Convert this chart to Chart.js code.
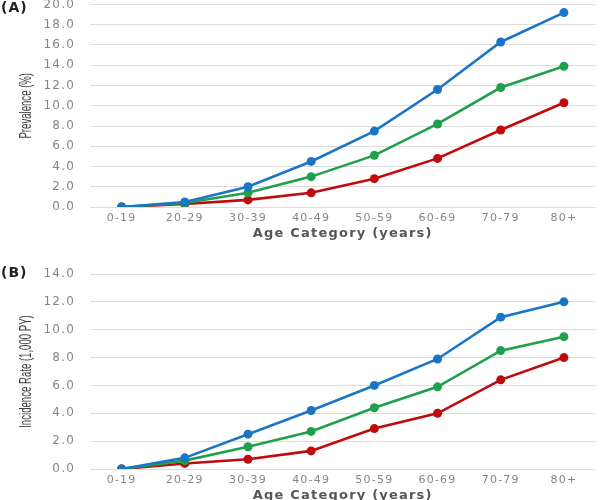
<!DOCTYPE html>
<html lang="en">
<head>
<meta charset="UTF-8">
<title>Prevalence and Incidence by Age Category</title>
<script src="https://cdn.jsdelivr.net/npm/chart.js@4.4.0/dist/chart.umd.min.js"></script>
<style>
  html, body { margin: 0; padding: 0; background: #fff; overflow: hidden; }
  #wrap { position: relative; width: 600px; height: 500px; overflow: hidden; }
  .panel { position: absolute; left: 0; width: 600px; }
  .tag { position: absolute; left: 1px; font: bold 14px 'DejaVu Sans', sans-serif; color: #222; letter-spacing: 1px; }
</style>
</head>
<body>
<div id="wrap">
  <div class="panel" style="top:0;height:247px"><canvas id="chartA"></canvas></div>
  <div class="panel" style="top:247px;height:262px"><canvas id="chartB"></canvas></div>
  <div class="tag" style="top:-1px">(A)</div>
  <div class="tag" style="top:264px">(B)</div>
</div>
<script>
// age groups on the x axis
const ageGroups = ['0-19', '20-29', '30-39', '40-49', '50-59', '60-69', '70-79', '80+'];

// (A) prevalence, %
const prevBlue  = [0.0, 0.5, 2.0, 4.5, 7.5, 11.6, 16.3, 19.2];
const prevGreen = [0.0, 0.4, 1.4, 3.0, 5.1, 8.2, 11.8, 13.9];
const prevRed   = [0.0, 0.3, 0.7, 1.4, 2.8, 4.8, 7.6, 10.3];

// (B) incidence rate per 1,000 PY
const incBlue  = [0.0, 0.8, 2.5, 4.2, 6.0, 7.9, 10.9, 12.0];
const incGreen = [0.0, 0.6, 1.6, 2.7, 4.4, 5.9, 8.5, 9.5];
const incRed   = [0.0, 0.4, 0.7, 1.3, 2.9, 4.0, 6.4, 8.0];

const prevMax = 20, incMax = 14;
const BLUE = '#1b75c6', GREEN = '#1fa04c', RED = '#c00a0e';

// the original text is wide and spaced out; the y title is tall and condensed
const spacing = {
  id: 'spacing',
  beforeUpdate: c => { c.ctx.letterSpacing = '1.2px'; },
  beforeDraw: c => { c.ctx.letterSpacing = '1.2px'; }
};

const yTitle = {
  id: 'yTitle',
  afterDraw(chart, args, opts) {
    const { ctx, chartArea } = chart;
    ctx.save();
    ctx.letterSpacing = '0px';
    ctx.translate(27, (chartArea.top + chartArea.bottom) / 2);
    ctx.rotate(-Math.PI / 2);
    ctx.scale(0.6, 1);
    ctx.font = "16px 'Liberation Sans', sans-serif";
    ctx.fillStyle = '#404040';
    ctx.textAlign = 'center';
    ctx.textBaseline = 'middle';
    ctx.fillText(opts.text, 0, 0);
    ctx.restore();
  }
};

function series(data, color) {
  return {
    data: data,
    borderColor: color,
    backgroundColor: color,
    borderWidth: 2.6,
    pointRadius: 4.5,
    pointBorderWidth: 0,
    tension: 0
  };
}

function makeChart(id, sets, yMax, title, topPad) {
  return new Chart(document.getElementById(id), {
    type: 'line',
    data: {
      labels: ageGroups,
      datasets: [series(sets[0], BLUE), series(sets[1], GREEN), series(sets[2], RED)]
    },
    plugins: [spacing, yTitle],
    options: {
      responsive: true,
      maintainAspectRatio: false,
      animation: false,
      layout: { padding: { top: topPad, right: 3, left: 0, bottom: 0 } },
      plugins: {
        legend: { display: false },
        tooltip: { enabled: false },
        yTitle: { text: title }
      },
      scales: {
        x: {
          offset: true,
          grid: { display: false, drawTicks: false },
          border: { display: false },
          ticks: { color: '#858585', padding: 5, font: { family: 'DejaVu Sans', size: 11 } },
          title: {
            display: true, text: 'Age Category (years)', color: '#555',
            font: { family: 'DejaVu Sans', size: 13, weight: 'bold' },
            padding: { top: 0, bottom: 6 }
          },
          afterFit: s => { s.height = 40; }
        },
        y: {
          min: 0, max: yMax,
          grid: { color: '#dcdcdc', lineWidth: 1, drawTicks: false },
          border: { display: false },
          ticks: {
            stepSize: 2, padding: 15, color: '#858585',
            font: { family: 'DejaVu Sans', size: 12 },
            callback: v => v.toFixed(1)
          },
          afterFit: s => { s.width = 90; s.paddingTop = 0; s.paddingBottom = 0; }
        }
      }
    }
  });
}

makeChart('chartA', [prevBlue, prevGreen, prevRed], prevMax, 'Prevalence (%)', 3);
makeChart('chartB', [incBlue, incGreen, incRed], incMax, 'Incidence Rate (1,000 PY)', 27);
</script>
</body>
</html>
